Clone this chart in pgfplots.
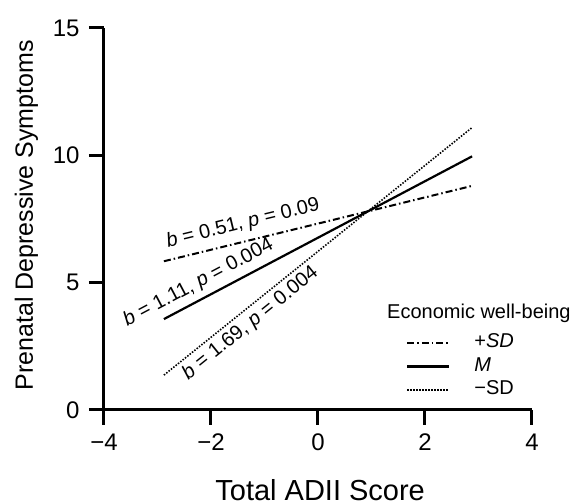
\documentclass[border=0pt]{standalone}
\usepackage{fontspec}
\setmainfont{Liberation Sans}
\usepackage{pgfplots}
\pgfplotsset{compat=1.18}
\begin{document}
\begin{tikzpicture}
\begin{axis}[
  scale only axis,
  width=428pt, height=382pt,
  xmin=-4, xmax=4, ymin=0, ymax=15,
  axis x line=bottom, axis y line=left,
  axis line style={-, line width=3pt},
  tick align=outside,
  major tick length=15pt,
  every tick/.style={black, line width=3pt},
  xtick={-4,-2,0,2,4},
  xticklabels={−4,−2,0,2,4},
  ytick={0,5,10,15},
  yticklabels={0,5,10,15},
  tick label style={font=\fontsize{24}{28}\selectfont},
  xticklabel style={anchor=north, yshift=-5pt},
  yticklabel style={anchor=east, xshift=-6pt},
  every axis x label/.style={at={(axis description cs:0.505,0)}, yshift=-91pt, anchor=base, font=\fontsize{29}{34}\selectfont},
  every axis y label/.style={at={(axis description cs:0,0.51)}, xshift=-71pt, rotate=90, anchor=base, font=\fontsize{25}{30}\selectfont},
  xlabel={Total ADII Score},
  ylabel={Prenatal Depressive Symptoms},
  clip=false,
  legend style={draw=none, fill=none, at={(axis description cs:0.7056,0.0275)}, anchor=south west,
    font=\fontsize{20}{24}\selectfont, inner sep=0pt, row sep=5pt, column sep=24pt,
    nodes={inner sep=0pt, text height=14pt, text depth=4.5pt}},
  legend cell align=left,
  legend image code/.code={\draw[#1] (0pt,0pt) -- (42pt,0pt);},
]
\addplot[black, line width=2pt, dash pattern=on 7pt off 3pt on 1.5pt off 3pt] coordinates {(-2.88,5.84) (2.88,8.80)};
\addlegendentry{+\textit{SD}}
\addplot[black, line width=2.2pt] coordinates {(-2.88,3.57) (2.88,9.96)};
\addlegendentry{\textit{M}}
\addplot[black, line width=1.6pt, dash pattern=on 1.5pt off 1.5pt] coordinates {(-2.88,1.37) (2.88,11.09)};
\addlegendentry{−SD}

\node[anchor=base, inner sep=0pt, rotate=13.7, font=\fontsize{20}{24}\selectfont] at (axis cs:-1.38,7.12) {\textit{b} = 0.51, \textit{p} = 0.09};
\node[anchor=base, inner sep=0pt, rotate=27.9, font=\fontsize{20}{24}\selectfont] at (axis cs:-2.19,4.81) {\textit{b} = 1.11, \textit{p} = 0.004};
\node[anchor=base, inner sep=0pt, rotate=38.9, font=\fontsize{20}{24}\selectfont] at (axis cs:-1.20,3.24) {\textit{b} = 1.69, \textit{p} = 0.004};
\node[anchor=base west, inner sep=0pt, font=\fontsize{20}{24}\selectfont] at (axis cs:1.29,3.61) {Economic well-being};
\end{axis}
\pgfresetboundingbox
\path (-104pt,-93pt) rectangle (470pt,410pt);
\end{tikzpicture}
\end{document}
